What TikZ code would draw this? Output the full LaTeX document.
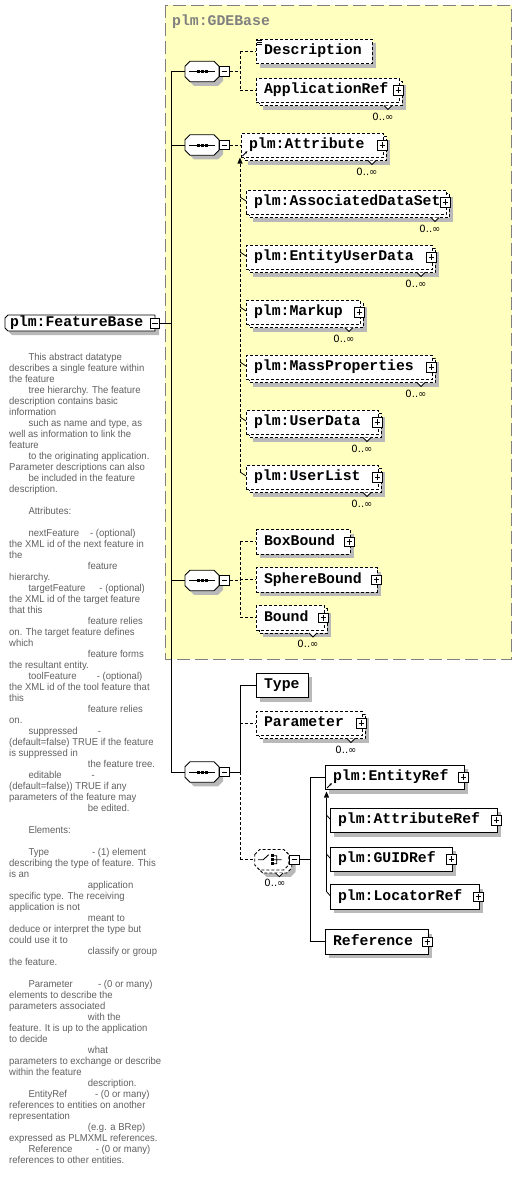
\documentclass[tikz,border=0pt]{standalone}
\usepackage{fontspec}
\setmainfont{Liberation Sans}
\newfontfamily\elemfont{Liberation Mono}
\newfontfamily\occfont{DejaVu Sans}
\newfontfamily\docfont[FakeStretch=0.95]{Liberation Sans}
\usetikzlibrary{calc,arrows.meta}
\definecolor{boxshadow}{RGB}{185,185,185}
\definecolor{gdeyellow}{RGB}{255,255,192}
\definecolor{gdeborder}{RGB}{128,128,128}
\definecolor{doctext}{RGB}{96,96,96}
\newcommand\docia{\hspace*{19.3pt}}
\newcommand\docib{\hspace*{78.7pt}}
\newcommand\doctab[2]{\makebox[#1][l]{#2}}
% element with a plain shadow: style, name, x, y, text width, text
\newcommand\elemone[6]{%
  \fill[boxshadow] (#3+4,#4+4) rectangle ++(#5+16,24.5);
  \node[#1=#5pt] (#2) at (#3,#4) {\mbox{#6}};}
% element with a stacked copy and a shadow
\newcommand\elemtwo[6]{%
  \fill[boxshadow] (#3+7,#4+7) rectangle ++(#5+16,24.5);
  \filldraw[fill=white, draw=black, ln, dsh] (#3+3,#4+3) rectangle ++(#5+16,24.5);
  \node[#1=#5pt] (#2) at (#3,#4) {\mbox{#6}};}
% octagon outline (compositor) around a point
\newcommand\octpath[3]{\path[#1] ($#2+(#3)+(-17,-5.25)$) -- ($#2+(#3)+(-12,-10.25)$) -- ($#2+(#3)+(12,-10.25)$) -- ($#2+(#3)+(17,-5.25)$)
  -- ($#2+(#3)+(17,5.25)$) -- ($#2+(#3)+(12,10.25)$) -- ($#2+(#3)+(-12,10.25)$) -- ($#2+(#3)+(-17,5.25)$) -- cycle;}
\newcommand\seqnode[2]{%
  \octpath{fill=boxshadow}{(#2)}{4,4}
  \octpath{fill=white, draw=black, ln}{(#2)}{0,0}
  \node[compnode] (#1) at (#2) {};
  \draw[line width=0.9pt] ($(#1.center)+(-13,0)$) -- ($(#1.center)+(13,0)$);
  \foreach \dx in {-4,0,4} {\fill ($(#1.center)+(\dx-1.5,-1.5)$) rectangle +(3,3);}
}
\begin{document}
\begin{tikzpicture}[
  x=1pt, y=-1pt,
  ln/.style={line width=0.9pt},
  dsh/.style={dash pattern=on 3pt off 2pt},
  elemfnt/.style={font=\elemfont\bfseries\fontsize{14.8pt}{16pt}\selectfont},
  elembase/.style={draw=black, ln, fill=white, anchor=north west, inner xsep=8pt, inner ysep=0pt, outer sep=0pt,
    minimum height=24.5pt, align=left, elemfnt, text height=9pt, text depth=2.5pt},
  elemreq/.style={elembase, text width=#1},
  elemopt/.style={elembase, dsh, text width=#1},
  elemmulti/.style={elembase, dsh, text width=#1},
  compnode/.style={minimum width=34pt, minimum height=20.5pt, inner sep=0pt, outer sep=0pt},
  mbox/.style={draw=black, line width=0.8pt, solid, fill=white, minimum size=9.6pt, inner sep=0pt,
    path picture={\draw[line width=0.8pt] ([xshift=2pt]path picture bounding box.west) -- ([xshift=-2pt]path picture bounding box.east);}},
  pbox/.style={draw=black, line width=0.8pt, solid, fill=white, minimum size=9.6pt, inner sep=0pt,
    path picture={\draw[line width=0.8pt] ([xshift=2pt]path picture bounding box.west) -- ([xshift=-2pt]path picture bounding box.east)
      ([yshift=-2pt]path picture bounding box.north) -- ([yshift=2pt]path picture bounding box.south);}},
  occ/.style={font=\occfont\fontsize{10pt}{11pt}\selectfont, inner sep=0pt},
  doc/.style={anchor=north west, inner sep=0pt, align=left, text=doctext, font=\docfont\fontsize{10pt}{11pt}\selectfont},
  notch/.style={line width=0.8pt, solid, fill=white},
  tick/.style={line width=0.8pt, solid},
  refarrow/.style={line width=0.8pt, solid, -{Latex[length=2.6pt,width=2.6pt]}},
]
\useasboundingbox (0,0) rectangle (517,1192);

% GDEBase group
\draw[fill=gdeyellow, draw=gdeborder, line width=0.9pt, dash pattern=on 13pt off 5pt] (165,5) rectangle (511.5,659);
\node[anchor=base west, inner sep=0pt, text=gdeborder, elemfnt] (gdet) at (172,25.5) {plm:GDEBase};

\coordinate (trunk) at (171,0);
\coordinate (bus) at (240,0);
\coordinate (cbus) at (310,0);
\coordinate (sbusB) at (326.5,0);

% FeatureBase
\fill[boxshadow] (12,319) -- (159,319) -- (159,335) -- (12,335) -- (9,332) -- (9,322) -- cycle;
\filldraw[fill=white, draw=black, ln] (8,315) -- (155,315) -- (155,331) -- (8,331) -- (5,328) -- (5,318) -- cycle;
\node[anchor=north west, inner xsep=5pt, inner ysep=0pt, outer sep=0pt, text width=140pt, minimum height=16pt,
  text height=9pt, text depth=2.5pt, align=left, elemfnt] (fb) at (5,315) {\mbox{plm:FeatureBase}};
\node[mbox] (mfb) at ($(fb.east)+(0,0.5)$) {};

% sequences
\seqnode{s1}{202,71.5}
\seqnode{s2}{202,145}
\seqnode{s3}{202,580.5}
\seqnode{s4}{202,772}
\node[mbox] (m1) at ($(s1.east)+(5.5,0)$) {};
\node[mbox] (m2) at ($(s2.east)+(5.5,0)$) {};
\node[mbox] (m3) at ($(s3.east)+(5.5,0)$) {};
\node[mbox] (m4) at ($(s4.east)+(5.5,0)$) {};

% group 1
\elemone{elemopt}{desc}{256}{39}{100}{Description}
\draw[line width=0.6pt] ($(desc.north west)+(1.2,1.4)$) -- +(4.5,0) ($(desc.north west)+(1.2,3.2)$) -- +(4.5,0) ($(desc.north west)+(1.2,5)$) -- +(4.5,0);
\elemtwo{elemmulti}{appref}{256}{78}{127}{ApplicationRef}

% group 2
\elemtwo{elemmulti}{attr}{241}{133}{126}{plm:Attribute}
\elemtwo{elemmulti}{assoc}{246}{190}{184}{plm:AssociatedDataSet}
\elemtwo{elemmulti}{eud}{246}{245}{170}{plm:EntityUserData}
\elemtwo{elemmulti}{markup}{246}{300}{98}{plm:Markup}
\elemtwo{elemmulti}{mass}{246}{355}{170}{plm:MassProperties}
\elemtwo{elemmulti}{udata}{246}{410}{116}{plm:UserData}
\elemtwo{elemmulti}{ulist}{246}{465}{116}{plm:UserList}

% group 3
\elemone{elemopt}{boxb}{256}{529.5}{78}{BoxBound}
\elemone{elemopt}{sphb}{256}{567.5}{105}{SphereBound}
\elemtwo{elemmulti}{bound}{256}{605.5}{52}{Bound}

% group 4
\elemone{elemreq}{type}{256}{673}{36}{Type}
\elemtwo{elemmulti}{param}{256}{711}{90}{Parameter}
\octpath{fill=boxshadow}{(271.7,859.7)}{7,7}
\octpath{fill=white, draw=black, ln, dsh}{(271.7,859.7)}{3,3}
\octpath{fill=white, draw=black, ln, dsh}{(271.7,859.7)}{0,0}
\node[compnode, minimum width=33.5pt] (ch) at (271.7,859.7) {};
\draw[line width=0.9pt]
  ($(ch.center)+(-13.5,0)$) -- ($(ch.center)+(-8.5,0)$) -- ($(ch.center)+(-3,-5)$)
  ($(ch.center)+(1.5,-4)$) -- ($(ch.center)+(5,-4)$) -- ($(ch.center)+(5,4)$) -- ($(ch.center)+(1.5,4)$)
  ($(ch.center)+(1.5,0)$) -- ($(ch.center)+(10,0)$);
\foreach \dy in {-4,0,4} {\fill ($(ch.center)+(-0.8,\dy-1.3)$) rectangle +(2.6,2.6);}
\node[mbox] (mc) at ($(ch.east)+(6,0)$) {};
\elemone{elemreq}{eref}{325}{765}{123}{plm:EntityRef}
\elemone{elemreq}{aref}{330}{808}{151}{plm:AttributeRef}
\elemone{elemreq}{guid}{330}{847}{106}{plm:GUIDRef}
\elemone{elemreq}{loc}{330}{884.5}{133}{plm:LocatorRef}
\elemone{elemreq}{refer}{325}{929.5}{87}{Reference}

% plus boxes
\foreach \n in {appref,attr,assoc,eud,markup,mass,udata,ulist,boxb,sphb,bound,param,eref,aref,guid,loc,refer}
  {\node[pbox] (\n-p) at ($(\n.east)+(-0.5,0)$) {};}

% occurrence marks
\foreach \n in {appref,attr,assoc,eud,markup,mass,udata,ulist,bound,param} {
  \filldraw[notch] ($(\n.south east)+(-15,3)$) -- ($(\n.south east)+(-11,7)$) -- ($(\n.south east)+(-7,3)$);
  \node[occ] (\n-o) at ($(\n.south east)+(-16,14)$) {0..∞};
}
\filldraw[notch] ($(ch.center)+(4,13.3)$) -- ($(ch.center)+(7.6,17)$) -- ($(ch.center)+(11.2,13.3)$);
\node[occ] (ch-o) at ($(ch.center)+(3.3,23.6)$) {0..∞};

% reference arrows
\draw[refarrow] ($(attr.south west)+(1.5,-1.5)$) -- ++(5,-5);
\draw[refarrow] ($(eref.south west)+(2,-1.5)$) -- ++(5,-5);

% connectors: FeatureBase to trunk
\draw[ln] (mfb.east) -- (mfb.east -| trunk);
\draw[ln] (s1.west -| trunk) -- (s4.west -| trunk);
\foreach \s in {s1,s2,s3,s4} {\draw[ln] (\s.west -| trunk) -- (\s.west);}

% group 1
\draw[ln,dsh] (m1.east) -- (m1.east -| bus);
\draw[ln,dsh] (desc.west -| bus) -- (appref.west -| bus);
\draw[ln,dsh] (desc.west -| bus) -- (desc.west);
\draw[ln,dsh] (appref.west -| bus) -- (appref.west);

% group 2 (substitution group of plm:Attribute)
\draw[ln,dsh] (m2.east) -- (m2.east -| attr.west);
\coordinate (sgtop) at ($(attr.south west -| bus)+(0,6)$);
\coordinate (sgbot) at ($(ulist.north west -| bus)+(0,7)$);
\fill ($(sgtop)+(0,-6)$) -- ($(sgtop)+(2.6,0)$) -- ($(sgtop)+(-2.6,0)$) -- cycle;
\draw[ln,dsh] (sgtop) -- (sgbot);
\foreach \n in {assoc,eud,markup,mass,udata,ulist}
  {\draw[tick] ($(\n.north west -| bus)+(0,7)$) -- ($(\n.north west)+(0,11)$);}

% group 3
\draw[ln,dsh] (m3.east) -- (m3.east -| bus);
\draw[ln,dsh] (boxb.west -| bus) -- (bound.west -| bus);
\foreach \n in {boxb,sphb,bound} {\draw[ln,dsh] (\n.west -| bus) -- (\n.west);}

% group 4
\draw[ln] (m4.east) -- (m4.east -| bus);
\draw[ln] (type.west -| bus) -- (m4.east -| bus);
\draw[ln,dsh] (m4.east -| bus) -- (ch.west -| bus);
\draw[ln] (type.west -| bus) -- (type.west);
\draw[ln,dsh] (param.west -| bus) -- (param.west);
\draw[ln,dsh] (ch.west -| bus) -- (ch.west);

% choice
\draw[ln] (mc.east) -- (mc.east -| cbus);
\draw[ln] (eref.west -| cbus) -- (refer.west -| cbus);
\draw[ln] (eref.west -| cbus) -- (eref.west);
\draw[ln] (refer.west -| cbus) -- (refer.west);

% substitution group of plm:EntityRef
\coordinate (sgtopB) at ($(eref.south west -| sbusB)+(0,8)$);
\coordinate (sgbotB) at ($(loc.north west -| sbusB)+(0,7)$);
\fill ($(sgtopB)+(0,-6)$) -- ($(sgtopB)+(2.6,0)$) -- ($(sgtopB)+(-2.6,0)$) -- cycle;
\draw[ln] (sgtopB) -- (sgbotB);
\foreach \n in {aref,guid,loc}
  {\draw[tick] ($(\n.north west -| sbusB)+(0,7)$) -- ($(\n.north west)+(0,11)$);}

% documentation
\node[doc] (doc) at (9,352.3) {\strut\docia This abstract datatype\\
describes a single feature within\\
the feature\\
\docia tree hierarchy. The feature\\
description contains basic\\
information\\
\docia such as name and type, as\\
well as information to link the\\
feature\\
\docia to the originating application.\\
Parameter descriptions can also\\
\docia be included in the feature\\
description.\\
\mbox{}\\
\docia Attributes:\\
\mbox{}\\
\docia\doctab{61.7pt}{nextFeature}- (optional)\\
the XML id of the next feature in\\
the\\
\docib feature\\
hierarchy.\\
\docia\doctab{71pt}{targetFeature}- (optional)\\
the XML id of the target feature\\
that this\\
\docib feature relies\\
on. The target feature defines\\
which\\
\docib feature forms\\
the resultant entity.\\
\docia\doctab{68.4pt}{toolFeature}- (optional)\\
the XML id of the tool feature that\\
this\\
\docib feature relies\\
on.\\
\docia\doctab{69.4pt}{suppressed}-\\
(default=false) TRUE if the feature\\
is suppressed in\\
\docib the feature tree.\\
\docia\doctab{63pt}{editable}-\\
(default=false)) TRUE if any\\
parameters of the feature may\\
\docib be edited.\\
\mbox{}\\
\docia Elements:\\
\mbox{}\\
\docia\doctab{63.7pt}{Type}- (1) element\\
describing the type of feature. This\\
is an\\
\docib application\\
specific type. The receiving\\
application is not\\
\docib meant to\\
deduce or interpret the type but\\
could use it to\\
\docib classify or group\\
the feature.\\
\mbox{}\\
\docia\doctab{69.7pt}{Parameter}- (0 or many)\\
elements to describe the\\
parameters associated\\
\docib with the\\
feature. It is up to the application\\
to decide\\
\docib what\\
parameters to exchange or describe\\
within the feature\\
\docib description.\\
\docia\doctab{66.7pt}{EntityRef}- (0 or many)\\
references to entities on another\\
representation\\
\docib (e.g. a BRep)\\
expressed as PLMXML references.\\
\docia\doctab{67.4pt}{Reference}- (0 or many)\\
references to other entities.};
\end{tikzpicture}
\end{document}
